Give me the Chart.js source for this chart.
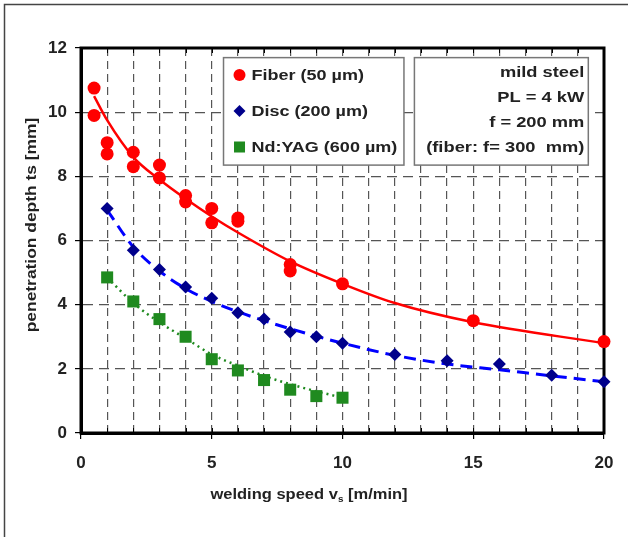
<!DOCTYPE html>
<html>
<head>
<meta charset="utf-8">
<script src="https://cdn.jsdelivr.net/npm/chart.js@4.4.1/dist/chart.umd.min.js"></script>
<style>
  html, body { margin: 0; padding: 0; background: #fff; }
  canvas { display: block; }
</style>
</head>
<body>
<canvas id="depthChart" width="628" height="537"></canvas>
<script>
// penetration depth vs welding speed, three lasers

// measured points
const fiberX = [0.5, 0.5, 1, 1, 2, 2, 3, 3, 4, 4, 5, 5, 6, 6, 8, 8, 10, 15, 20];
const fiberY = [10.75, 9.9, 9.05, 8.7, 8.75, 8.3, 8.35, 7.95, 7.4, 7.2, 7.0, 6.55, 6.7, 6.6, 5.25, 5.05, 4.65, 3.5, 2.85];

const discX = [1, 2, 3, 4, 5, 6, 7, 8, 9, 10, 12, 14, 16, 18, 20];
const discY = [7.0, 5.7, 5.1, 4.55, 4.2, 3.75, 3.55, 3.15, 3.0, 2.8, 2.45, 2.25, 2.15, 1.8, 1.6];

const yagX = [1, 2, 3, 4, 5, 6, 7, 8, 9, 10];
const yagY = [4.85, 4.1, 3.55, 3.0, 2.3, 1.95, 1.65, 1.35, 1.15, 1.1];

// trend curves
const fiberFitX = [0.5, 1, 2, 3, 4, 5, 6, 8, 10, 12, 15, 20];
const fiberFitY = [10.5, 9.75, 8.6, 7.9, 7.3, 6.75, 6.25, 5.35, 4.65, 4.05, 3.45, 2.8];

const discFitX = [1, 2, 3, 4, 5, 6, 7, 8, 10, 12, 14, 16, 18, 20];
const discFitY = [6.95, 5.8, 5.05, 4.5, 4.1, 3.78, 3.5, 3.25, 2.8, 2.42, 2.15, 1.97, 1.78, 1.6];

const yagFitX = [1, 2, 3, 4, 5, 6, 7, 8, 9, 10];
const yagFitY = [4.85, 4.05, 3.45, 2.95, 2.45, 2.1, 1.78, 1.52, 1.3, 1.1];

// axis ticks / text
const xTickLabels = [0, 5, 10, 15, 20];
const yTickLabels = [0, 2, 4, 6, 8, 10, 12];
const legendLabels = ['Fiber (50 µm)', 'Disc (200 µm)', 'Nd:YAG (600 µm)'];
const noteLines = ['mild steel', 'PL = 4 kW', 'f = 200 mm', '(fiber: f= 300  mm)'];

const pts = (xs, ys) => xs.map((x, i) => ({ x: x, y: ys[i] }));

const RED = '#ff0000';
const NAVY = '#00008b';
const BLUE = '#0000ff';
const GREEN = '#1f8a1f';
const TEXT = '#222';
const FONT = '"Liberation Sans", Arial, sans-serif';

// text is a bit wider in the original, so stretch it sideways
function wideText(c, str, x, y, sx) {
    c.save();
    c.translate(x, y);
    c.scale(sx, 1);
    c.fillText(str, 0, 0);
    c.restore();
}

// frame, boxes, axis titles
const decorations = {
    id: 'decorations',
    beforeDraw(chart) {
        const c = chart.ctx;
        c.save();
        c.strokeStyle = '#444';
        c.lineWidth = 1.5;
        c.beginPath();
        c.moveTo(4.5, chart.height);
        c.lineTo(4.5, 4.5);
        c.lineTo(chart.width, 4.5);
        c.stroke();
        c.restore();
    },
    beforeDatasetsDraw(chart) {
        const c = chart.ctx;
        const a = chart.chartArea;
        const xs = chart.scales.x, ys = chart.scales.y;
        c.save();
        // small tick marks hanging from the top and standing on the bottom
        c.strokeStyle = '#000';
        c.lineWidth = 1;
        for (let v = 1; v < 20; v++) {
            const px = Math.round(xs.getPixelForValue(v)) + 0.5;
            c.beginPath();
            c.moveTo(px, a.top); c.lineTo(px, a.top + 5);
            c.moveTo(px, a.bottom); c.lineTo(px, a.bottom - 5);
            c.stroke();
        }
        // plot frame
        c.lineWidth = 3;
        c.strokeStyle = '#000';
        c.strokeRect(a.left, a.top, a.right - a.left, a.bottom - a.top);

        // legend box
        const lx = xs.getPixelForValue(5.45), rx = xs.getPixelForValue(12.35);
        const ty = ys.getPixelForValue(11.7), by = ys.getPixelForValue(8.35);
        c.fillStyle = '#fff';
        c.strokeStyle = '#777';
        c.lineWidth = 1.5;
        c.fillRect(lx, ty, rx - lx, by - ty);
        c.strokeRect(lx, ty, rx - lx, by - ty);

        // note box
        const nx = xs.getPixelForValue(12.75), nr = xs.getPixelForValue(19.4);
        c.fillRect(nx, ty, nr - nx, by - ty);
        c.strokeRect(nx, ty, nr - nx, by - ty);

        c.font = 'bold 15px ' + FONT;
        c.textBaseline = 'middle';
        const rowY = [75, 111, 147];
        const mx = lx + 16;
        // markers
        c.fillStyle = RED;
        c.beginPath(); c.arc(mx, rowY[0], 6, 0, Math.PI * 2); c.fill();
        c.fillStyle = NAVY;
        c.beginPath();
        c.moveTo(mx - 6, rowY[1]); c.lineTo(mx, rowY[1] - 6);
        c.lineTo(mx + 6, rowY[1]); c.lineTo(mx, rowY[1] + 6);
        c.closePath(); c.fill();
        c.fillStyle = GREEN;
        c.fillRect(mx - 5.5, rowY[2] - 5.5, 11, 11);
        c.fillStyle = TEXT;
        c.textAlign = 'left';
        legendLabels.forEach((t, i) => wideText(c, t, mx + 12, rowY[i] + 1, 1.2));

        c.textAlign = 'right';
        const noteY = [72, 97, 122, 147];
        noteLines.forEach((t, i) => wideText(c, t, nr - 4, noteY[i] + 1, 1.22));

        // x axis title with subscript s
        c.textAlign = 'left';
        const sx = 1.1;
        const main = 'welding speed v';
        const sub = 's';
        const rest = ' [m/min]';
        c.font = 'bold 15px ' + FONT;
        const w1 = c.measureText(main).width * sx;
        const w3 = c.measureText(rest).width * sx;
        c.font = 'bold 9px ' + FONT;
        const w2 = c.measureText(sub).width * sx;
        const tx = 309 - (w1 + w2 + w3) / 2;
        const tyy = 495;
        c.font = 'bold 15px ' + FONT;
        wideText(c, main, tx, tyy, sx);
        c.font = 'bold 9px ' + FONT;
        wideText(c, sub, tx + w1, tyy + 5, sx);
        c.font = 'bold 15px ' + FONT;
        wideText(c, rest, tx + w1 + w2, tyy, sx);

        // y axis title
        c.translate(32, 225);
        c.rotate(-Math.PI / 2);
        c.textAlign = 'center';
        wideText(c, 'penetration depth ts [mm]', 0, 0, 1.16);
        c.restore();
    }
};

new Chart(document.getElementById('depthChart'), {
    type: 'scatter',
    data: {
        datasets: [
            { label: legendLabels[0], data: pts(fiberX, fiberY), pointStyle: 'circle', pointRadius: 6.5,
              backgroundColor: RED, borderWidth: 0, clip: false, order: 0 },
            { label: legendLabels[1], data: pts(discX, discY), pointStyle: 'rectRot', pointRadius: 6.5,
              backgroundColor: NAVY, borderWidth: 0, clip: false, order: 0 },
            { label: legendLabels[2], data: pts(yagX, yagY), pointStyle: 'rect', pointRadius: 8.5,
              backgroundColor: GREEN, borderWidth: 0, clip: false, order: 0 },
            { label: 'fiber fit', data: pts(fiberFitX, fiberFitY), showLine: true, pointRadius: 0,
              borderColor: RED, borderWidth: 2.5, cubicInterpolationMode: 'monotone', order: 1 },
            { label: 'disc fit', data: pts(discFitX, discFitY), showLine: true, pointRadius: 0,
              borderColor: BLUE, borderWidth: 3, borderDash: [12, 7], cubicInterpolationMode: 'monotone', order: 1 },
            { label: 'yag fit', data: pts(yagFitX, yagFitY), showLine: true, pointRadius: 0,
              borderColor: GREEN, borderWidth: 2.5, borderDash: [2, 4], cubicInterpolationMode: 'monotone', order: 1 }
        ]
    },
    options: {
        responsive: false,
        animation: false,
        events: [],
        layout: { padding: { left: 0, top: 48, right: 24, bottom: 0 } },
        scales: {
            x: {
                type: 'linear',
                min: 0, max: 20,
                afterFit: (s) => { s.height = 104; },
                afterBuildTicks: (s) => { s.ticks = Array.from({ length: 21 }, (_, i) => ({ value: i })); },
                ticks: {
                    autoSkip: false, maxRotation: 0, padding: 14,
                    color: TEXT,
                    font: { family: FONT, size: 17, weight: 'bold' },
                    callback: (v) => xTickLabels.includes(v) ? String(v) : ''
                },
                grid: {
                    color: '#555', lineWidth: 1.2, tickLength: 6,
                    tickColor: (ctx) => (ctx.tick && ctx.tick.value % 5 === 0) ? '#000' : 'rgba(0,0,0,0)',
                    tickWidth: 1.2, tickBorderDash: []
                },
                border: { display: true, color: '#000', width: 3, dash: [8, 5] }
            },
            y: {
                min: 0, max: 12,
                afterFit: (s) => { s.width = 81; },
                afterBuildTicks: (s) => { s.ticks = yTickLabels.map(v => ({ value: v })); },
                ticks: {
                    padding: 8,
                    color: TEXT,
                    font: { family: FONT, size: 17, weight: 'bold' }
                },
                grid: {
                    color: '#555', lineWidth: 1.2, tickLength: 6, tickColor: '#000',
                    tickWidth: 1.2, tickBorderDash: []
                },
                border: { display: true, color: '#000', width: 3, dash: [10, 6] }
            }
        },
        plugins: {
            legend: { display: false },
            tooltip: { enabled: false },
            title: { display: false }
        }
    },
    plugins: [decorations]
});
</script>
</body>
</html>
